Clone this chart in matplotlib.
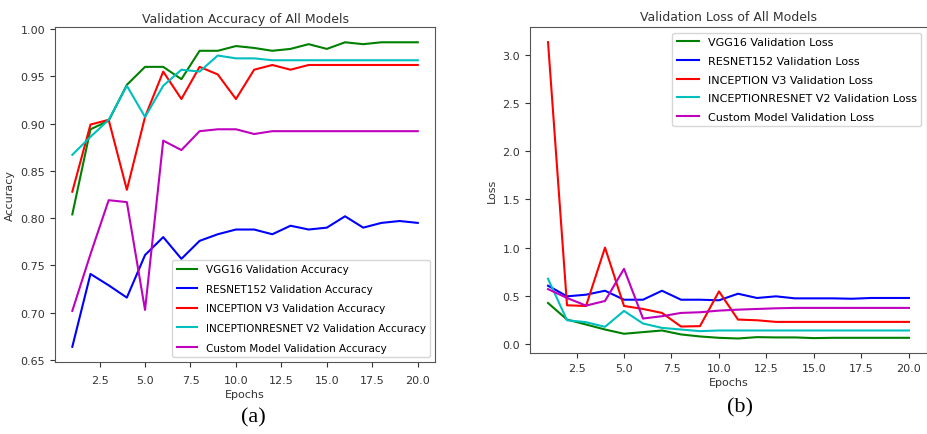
import matplotlib.pyplot as plt

epochs = list(range(1, 21))

# validation accuracy
vgg_acc = [0.804, 0.894, 0.903, 0.941, 0.960, 0.960, 0.947, 0.977, 0.977, 0.982,
           0.980, 0.977, 0.979, 0.984, 0.979, 0.986, 0.984, 0.986, 0.986, 0.986]
resnet_acc = [0.664, 0.741, 0.729, 0.716, 0.761, 0.780, 0.757, 0.776, 0.783, 0.788,
              0.788, 0.783, 0.792, 0.788, 0.790, 0.802, 0.790, 0.795, 0.797, 0.795]
incep_acc = [0.828, 0.899, 0.904, 0.830, 0.907, 0.955, 0.926, 0.960, 0.952, 0.926,
             0.957, 0.962, 0.957, 0.962, 0.962, 0.962, 0.962, 0.962, 0.962, 0.962]
incres_acc = [0.867, 0.886, 0.904, 0.940, 0.907, 0.940, 0.957, 0.955, 0.972, 0.969,
              0.969, 0.967, 0.967, 0.967, 0.967, 0.967, 0.967, 0.967, 0.967, 0.967]
custom_acc = [0.702, 0.762, 0.819, 0.817, 0.703, 0.882, 0.872, 0.892, 0.894, 0.894,
              0.889, 0.892, 0.892, 0.892, 0.892, 0.892, 0.892, 0.892, 0.892, 0.892]

# validation loss
vgg_loss = [0.426, 0.254, 0.203, 0.151, 0.107, 0.124, 0.141, 0.100, 0.079, 0.065,
            0.058, 0.072, 0.069, 0.069, 0.062, 0.065, 0.065, 0.065, 0.065, 0.065]
resnet_loss = [0.605, 0.495, 0.512, 0.553, 0.460, 0.460, 0.553, 0.460, 0.460, 0.454,
               0.522, 0.478, 0.495, 0.474, 0.474, 0.474, 0.470, 0.478, 0.478, 0.478]
incep_loss = [3.13, 0.402, 0.395, 1.000, 0.395, 0.364, 0.323, 0.182, 0.186, 0.546,
              0.254, 0.247, 0.230, 0.230, 0.230, 0.230, 0.230, 0.230, 0.230, 0.230]
incres_loss = [0.677, 0.247, 0.227, 0.179, 0.344, 0.213, 0.168, 0.151, 0.134, 0.141,
               0.141, 0.141, 0.141, 0.141, 0.141, 0.141, 0.141, 0.141, 0.141, 0.141]
custom_loss = [0.570, 0.478, 0.399, 0.447, 0.780, 0.265, 0.289, 0.323, 0.330, 0.347,
               0.357, 0.364, 0.371, 0.375, 0.375, 0.375, 0.375, 0.375, 0.375, 0.375]

names = ['VGG16', 'RESNET152', 'INCEPTION V3', 'INCEPTIONRESNET V2', 'Custom Model']
colors = ['g', 'b', 'r', 'c', 'm']

fig = plt.figure(figsize=(9.28, 4.35), dpi=100)
ax1 = fig.add_axes([0.0593, 0.1655, 0.4095, 0.770])
ax2 = fig.add_axes([0.5711, 0.1855, 0.4278, 0.7494])

for name, c, y in zip(names, colors, [vgg_acc, resnet_acc, incep_acc, incres_acc, custom_acc]):
    ax1.plot(epochs, y, color=c, lw=1.5, label=name + ' Validation Accuracy')
for name, c, y in zip(names, colors, [vgg_loss, resnet_loss, incep_loss, incres_loss, custom_loss]):
    ax2.plot(epochs, y, color=c, lw=1.5, label=name + ' Validation Loss')

ax1.set_title('Validation Accuracy of All Models', fontsize=9, color='#333333', pad=4)
ax1.set_xlabel('Epochs', fontsize=8, color='#333333', labelpad=3)
ax1.set_ylabel('Accuracy', fontsize=8, color='#333333')
ax1.legend(loc='lower right', fontsize=7.5, labelspacing=0.92)
ax1.tick_params(axis='x', pad=6)

ax2.set_title('Validation Loss of All Models', fontsize=9, color='#333333', pad=5)
ax2.set_xlabel('Epochs', fontsize=8, color='#333333', labelpad=3)
ax2.set_ylabel('Loss', fontsize=8, color='#333333')
ax2.legend(loc='upper right', fontsize=8, labelspacing=0.78)

for ax in (ax1, ax2):
    ax.tick_params(labelsize=8, colors='#333333')
    for s in ax.spines.values():
        s.set_color('#555555')

fig.text(253 / 928, 1 - 418 / 435, '(a)', family='Liberation Serif', fontsize=16,
         ha='center', va='center')
fig.text(740 / 928, 1 - 408 / 435, '(b)', family='Liberation Serif', fontsize=16,
         ha='center', va='center')

fig.savefig('out.png', dpi=100)
